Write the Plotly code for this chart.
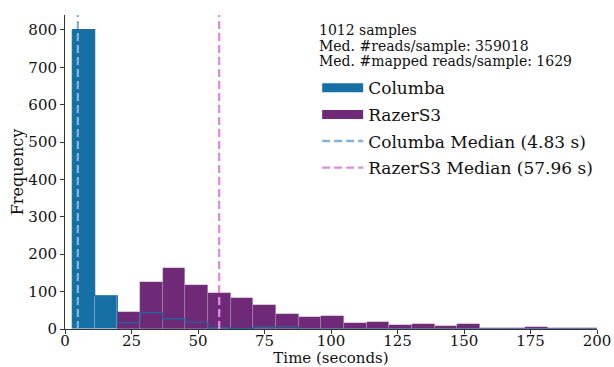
import plotly.graph_objects as go

# ---- data ----
bin_left = [2.63, 11.15, 19.67, 28.19, 36.71, 45.23, 53.75, 62.27, 70.79, 79.31,
            87.83, 96.35, 104.87, 113.39, 121.91, 130.43, 138.95, 147.47, 155.99,
            164.51, 173.03, 181.55, 190.07, 198.59]
bin_width = 8.52
columba_counts = [801, 89, 17, 44, 28, 18, 3, 1, 5, 6, 0, 0, 0, 0, 0, 0, 0, 0, 0, 0, 0, 0, 0, 0]
razers_counts = [0, 0, 46, 125, 162, 119, 97, 82, 63, 41, 33, 34, 15, 19, 10, 13, 8, 13,
                 3, 2, 5, 2, 3, 3]
columba_median = 4.83
razers_median = 57.96
info_lines = ["1012 samples", "Med. #reads/sample: 359018", "Med. #mapped reads/sample: 1629"]

x_ticks = [0, 25, 50, 75, 100, 125, 150, 175, 200]
y_ticks = [0, 100, 200, 300, 400, 500, 600, 700, 800]

# ---- styles ----
C_BLUE = "#1770a5"
C_PURPLE = "#6e2a77"
C_BLUE_MED = "#7fb4d6"
C_PURPLE_MED = "#df8be6"
FONT = "'DejaVu Serif', serif"

fig = go.Figure()

fig.add_trace(go.Bar(x=bin_left, y=columba_counts, width=bin_width, offset=0,
                     marker=dict(color=C_BLUE, line=dict(color="rgba(255,255,255,0.25)", width=0.6)),
                     showlegend=False, name="Columba"))
fig.add_trace(go.Bar(x=bin_left, y=razers_counts, width=bin_width, offset=0,
                     marker=dict(color=C_PURPLE, line=dict(color="rgba(255,255,255,0.25)", width=0.6)),
                     showlegend=False, name="RazerS3"))
# Columba outline visible through RazerS3 bars
step_x = bin_left + [bin_left[-1] + bin_width]
step_y = columba_counts + [columba_counts[-1]]
fig.add_trace(go.Scatter(x=step_x, y=step_y, mode="lines", line=dict(shape="hv", color="#21689e", width=1.2),
                         showlegend=False, hoverinfo="skip"))

# Median lines
y_top = 840
fig.add_trace(go.Scatter(x=[columba_median, columba_median], y=[0, y_top], mode="lines",
                         line=dict(color=C_BLUE_MED, width=2.3, dash="8px,4px"),
                         name=f"Columba Median ({columba_median:.2f} s)", showlegend=False))
fig.add_trace(go.Scatter(x=[razers_median, razers_median], y=[0, y_top], mode="lines",
                         line=dict(color=C_PURPLE_MED, width=2.3, dash="8px,4px"),
                         name=f"RazerS3 Median ({razers_median:.2f} s)", showlegend=False))

# Legend entries (rectangular swatches like the reference)
fig.add_trace(go.Scatter(x=[None], y=[None], mode="lines", line=dict(color=C_BLUE, width=9),
                         name="Columba", legendgroup="a"))
fig.add_trace(go.Scatter(x=[None], y=[None], mode="lines", line=dict(color=C_PURPLE, width=9),
                         name="RazerS3", legendgroup="b"))
fig.add_trace(go.Scatter(x=[None], y=[None], mode="lines",
                         line=dict(color=C_BLUE_MED, width=2.3, dash="8px,4px"),
                         name=f"Columba Median ({columba_median:.2f} s)", legendgroup="c"))
fig.add_trace(go.Scatter(x=[None], y=[None], mode="lines",
                         line=dict(color=C_PURPLE_MED, width=2.3, dash="8px,4px"),
                         name=f"RazerS3 Median ({razers_median:.2f} s)", legendgroup="d"))

# Info text above the legend
info_y = [0.952, 0.901, 0.853]
for txt, yy in zip(info_lines, info_y):
    fig.add_annotation(text=txt, xref="paper", yref="paper", x=0.474, y=yy,
                       xanchor="left", yanchor="middle", showarrow=False,
                       font=dict(size=14, family=FONT, color="#111"))

fig.update_layout(
    width=614, height=367,
    margin=dict(l=65, r=17, t=15, b=38, autoexpand=False),
    plot_bgcolor="white", paper_bgcolor="white",
    barmode="overlay", bargap=0,
    font=dict(family=FONT, size=15, color="#111"),
    xaxis=dict(range=[0, 200], tickvals=x_ticks, ticks="outside", ticklen=4, tickcolor="#333",
               showline=True, linecolor="#333", linewidth=1, showgrid=False, zeroline=False,
               automargin=False, tickangle=0, ticklabelstandoff=-6,
               title=dict(text="Time (seconds)", font=dict(size=15, family=FONT), standoff=4),
               tickfont=dict(size=15, family=FONT)),
    yaxis=dict(range=[0, y_top], tickvals=y_ticks, ticks="outside", ticklen=4, tickcolor="#333",
               showline=True, linecolor="#333", linewidth=1, showgrid=False, zeroline=False,
               automargin=False,
               title=dict(text="Frequency", font=dict(size=16, family=FONT), standoff=0),
               tickfont=dict(size=15, family=FONT)),
    legend=dict(x=0.474, y=0.824, xanchor="left", yanchor="top",
                bgcolor="rgba(0,0,0,0)", font=dict(size=17, family=FONT), traceorder="grouped",
                tracegroupgap=1.5, itemwidth=41),
)

fig.write_html("out.html", config={"displayModeBar": False},
               post_script="document.body.style.margin='0';")
